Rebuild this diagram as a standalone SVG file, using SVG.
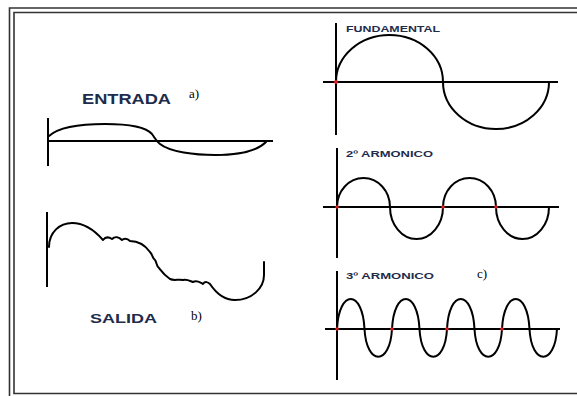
<svg xmlns="http://www.w3.org/2000/svg" width="577" height="396" viewBox="0 0 577 396">
<style>
.frame{fill:none;stroke:#333;stroke-width:1.6}
.ax{stroke:#000;stroke-width:2;fill:none}
.wave{stroke:#000;stroke-width:2;fill:none;stroke-linejoin:round;stroke-linecap:round}
.lbl{font-family:"Liberation Sans",Arial,sans-serif;font-weight:bold;fill:#1e2c4c}
.tag{font-family:"Liberation Serif","Times New Roman",serif;font-size:13px;fill:#000}
.dot{fill:#e02020}
</style>
<rect width="577" height="396" fill="#fff"/>
<g id="frame">
<path class="frame" d="M577,8 H9.5 V396"/>
<path class="frame" d="M577,12.5 H14 V393.5 H577"/>
</g>
<g id="entrada">
<line class="ax" x1="48" y1="118" x2="48" y2="166" stroke-width="3"/>
<line class="ax" x1="48" y1="141" x2="273" y2="141"/>
<path class="wave" stroke-width="1.6" d="M49,136 C60,126 85,124 105,124 C125,124 145,126 152,134 C155,138 156,141 160,144 C170,152 195,155 215,155 C240,155 258,150 266,142"/>
<text class="lbl" x="82" y="104" font-size="14" textLength="89" lengthAdjust="spacingAndGlyphs">ENTRADA</text>
<text class="tag" x="189" y="98">a)</text>
</g>
<g id="salida">
<line class="ax" x1="47" y1="212" x2="47" y2="287" stroke-width="2.5"/>
<path class="wave" stroke-width="1.8" d="M49,247 C49,232 60,223 72,223 C86,223 96,232 103,240 C106,236 109,237 112,239 C115,236 119,237 122,240 C125,238 128,239 130,241 C139,241 145,245 150,252 C153,255 152,258 155,260 C157,263 156,265 159,268 C162,272 164,275 170,279 C174,281 178,279 183,280 C187,279 190,281 193,282 C197,280 199,282 203,284 C205,281 208,282 210,284 C216,293 225,300 235,300 C252,300 264,288 264,275 L264,262"/>
<text class="lbl" x="90" y="323" font-size="13.5" textLength="67" lengthAdjust="spacingAndGlyphs">SALIDA</text>
<text class="tag" x="191" y="320">b)</text>
</g>
<g id="fundamental">
<line class="ax" x1="336" y1="23" x2="336" y2="135"/>
<line class="ax" x1="323" y1="82" x2="558" y2="82"/>
<path class="wave" d="M336,82 A53.5,47 0 0 1 443,82 A53,47 0 0 0 549,82"/>
<circle class="dot" cx="336" cy="82" r="2"/>
<text class="lbl" x="346" y="32" font-size="9.5" textLength="94" lengthAdjust="spacingAndGlyphs">FUNDAMENTAL</text>
</g>
<g id="armonico2">
<line class="ax" x1="337" y1="148" x2="337" y2="258"/>
<line class="ax" x1="323" y1="207" x2="559" y2="207"/>
<path class="wave" d="M337,207 A26.5,29 0 0 1 390,207 A26.5,32 0 0 0 443,207 A26.5,29 0 0 1 496,207 A26.5,32 0 0 0 549,207"/>
<circle class="dot" cx="337" cy="207" r="1.8"/>
<circle class="dot" cx="443" cy="207" r="1.8"/>
<circle class="dot" cx="496" cy="207" r="1.8"/>
<text class="lbl" x="346" y="157" font-size="9.5" textLength="87" lengthAdjust="spacingAndGlyphs">2º ARMONICO</text>
</g>
<g id="armonico3">
<line class="ax" x1="337" y1="271" x2="337" y2="380"/>
<line class="ax" x1="325" y1="329" x2="560" y2="329"/>
<path class="wave" d="M337,329 C339,289 362.5,289 364.5,329 C366.5,366 390,366 392,329 C394,289 417.5,289 419.5,329 C421.5,366 445,366 447,329 C449,289 472.5,289 474.5,329 C476.5,366 500,366 502,329 C504,289 527.5,289 529.5,329 C531.5,366 555,366 557,329"/>
<circle class="dot" cx="337" cy="329" r="1.8"/>
<circle class="dot" cx="392" cy="329" r="1.8"/>
<circle class="dot" cx="447" cy="329" r="1.8"/>
<circle class="dot" cx="502" cy="329" r="1.8"/>
<text class="lbl" x="346" y="279" font-size="9.5" textLength="88" lengthAdjust="spacingAndGlyphs">3º ARMONICO</text>
<text class="tag" x="477" y="278">c)</text>
</g>
</svg>
